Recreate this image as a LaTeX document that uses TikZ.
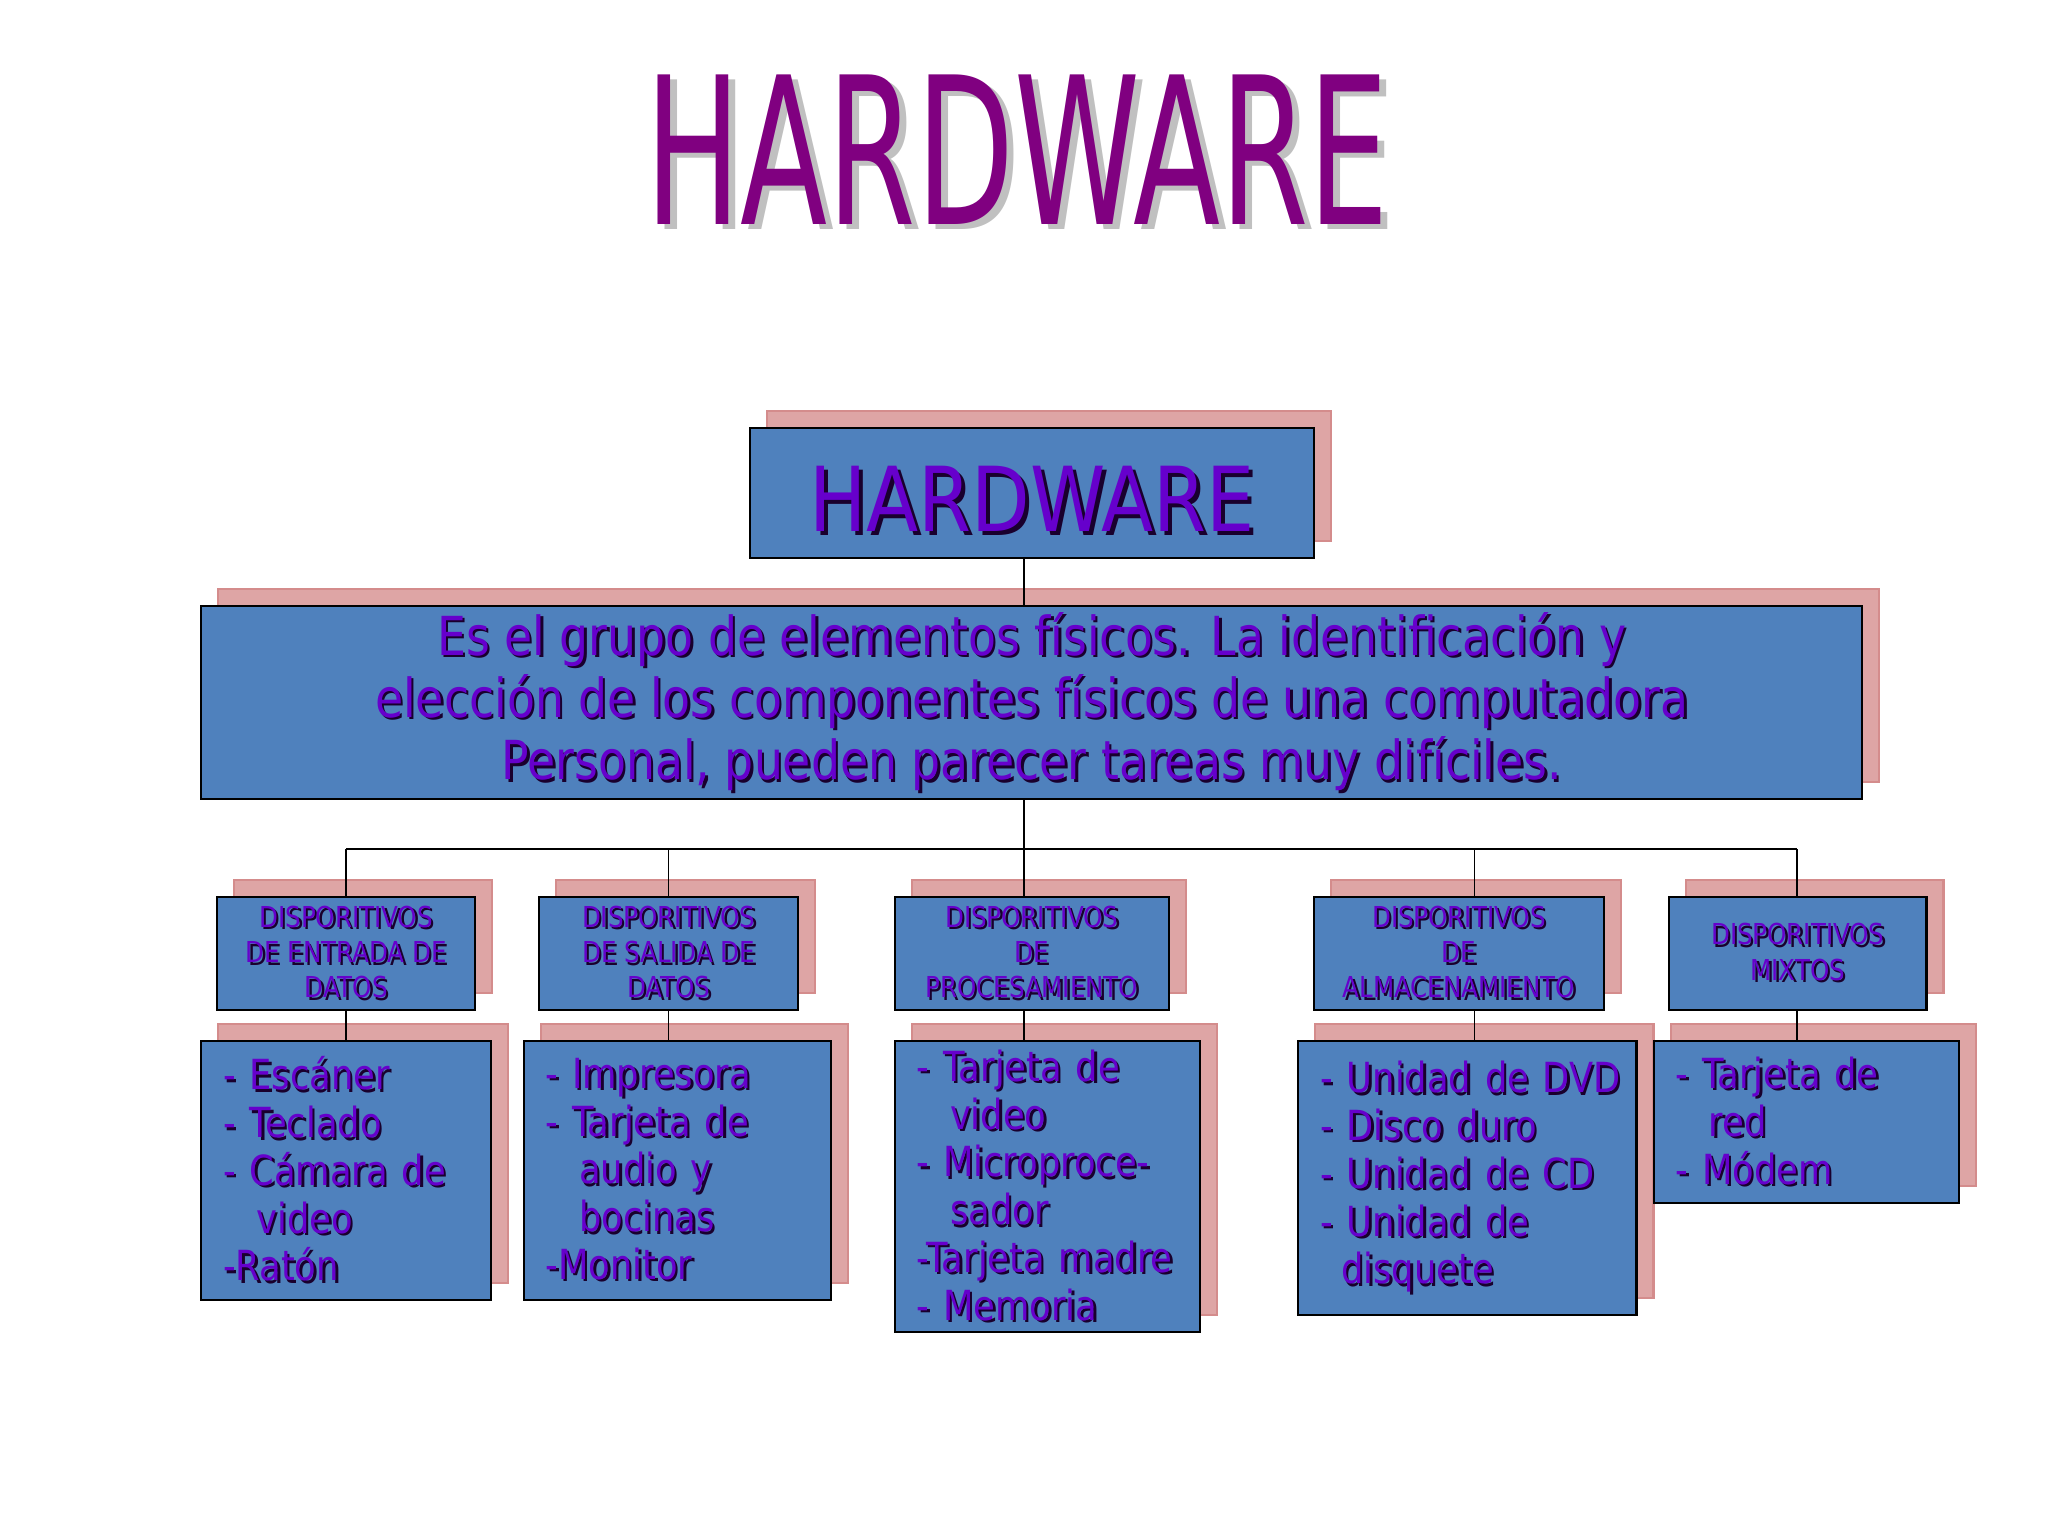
\documentclass[tikz,border=0pt]{standalone}
\usepackage{fontspec}
\setmainfont{DejaVu Sans}[FakeStretch=0.85]
\newfontfamily\titlefont{DejaVu Sans}[FakeStretch=0.62]
\usepackage{xcolor}
\usetikzlibrary{shadows}

\definecolor{boxblue}{RGB}{79,129,189}
\definecolor{shpink}{RGB}{222,165,165}
\definecolor{shedge}{RGB}{212,140,140}
\definecolor{txtviolet}{RGB}{102,0,204}
\definecolor{txtshade}{RGB}{25,0,45}
\definecolor{titlepurple}{RGB}{128,0,128}
\definecolor{titleshade}{RGB}{192,192,192}

\newcommand{\shtxt}[2][0.7pt]{\leavevmode\rlap{\kern#1\raisebox{-#1}{\color{txtshade}#2}}\mbox{#2}}

\begin{document}
\begin{tikzpicture}[
    box/.style={draw=black, line width=0.6pt, fill=boxblue, text=txtviolet,
      drop shadow={shadow xshift=0.17cm, shadow yshift=0.17cm, fill=shpink, draw=shedge, opacity=1}},
    catbox/.style={box, align=center, inner sep=0pt, minimum height=1.13cm, font=\fontsize{8.2}{10}\selectfont},
    itembox/.style={box, align=left, inner xsep=0.22cm, inner ysep=0pt, font=\fontsize{11.8}{13.6}\selectfont},
    titletxt/.style={anchor=base, font=\titlefont\fontsize{58.4}{60}\selectfont},
    link/.style={line width=0.45pt}]
  \useasboundingbox (0,0) rectangle (20.48,-15.36);
  % big title
  \node[titletxt, text=titleshade] (titleshadow) at (10.24,-2.30) {HARDWARE};
  \node[titletxt, text=titlepurple] (title) at (10.17,-2.246) {HARDWARE};
  % top box
  \node[box, minimum width=5.64cm, minimum height=1.30cm, inner ysep=0pt, text height=0.78cm, text depth=0pt, font=\fontsize{25.5}{30}\selectfont] (top) at (10.32,-4.93) {\shtxt[1.1pt]{HARDWARE}};
  % description
  \node[box, align=center, inner ysep=1pt, minimum width=16.61cm, minimum height=1.93cm, font=\fontsize{15.3}{17.7}\selectfont] (desc) at (10.318,-7.027)
    {\shtxt{Es el grupo de elementos físicos. La identificación y}\\
     \shtxt{elección de los componentes físicos de una computadora}\\
     \shtxt{Personal, pueden parecer tareas muy difíciles.}};
  % categories
  \node[catbox, minimum width=2.586cm] (cat1) at (3.461,-9.533) {\shtxt{DISPORITIVOS}\\\shtxt{DE ENTRADA DE}\\\shtxt{DATOS}};
  \node[catbox, minimum width=2.586cm] (cat2) at (6.687,-9.533) {\shtxt{DISPORITIVOS}\\\shtxt{DE SALIDA DE}\\\shtxt{DATOS}};
  \node[catbox, minimum width=2.743cm] (cat3) at (10.318,-9.533) {\shtxt{DISPORITIVOS}\\\shtxt{DE}\\\shtxt{PROCESAMIENTO}};
  \node[catbox, minimum width=2.90cm] (cat4) at (14.589,-9.533) {\shtxt{DISPORITIVOS}\\\shtxt{DE}\\\shtxt{ALMACENAMIENTO}};
  \node[catbox, minimum width=2.573cm] (cat5) at (17.978,-9.533) {\shtxt{DISPORITIVOS}\\\shtxt{MIXTOS}};
  % lists
  \node[itembox, text width=2.46cm, minimum height=2.586cm] (it1) at (3.461,-11.703)
    {\shtxt{- Escáner}\\\shtxt{- Teclado}\\\shtxt{- Cámara de}\\\hspace*{9.5pt}\shtxt{video}\\\shtxt{-Ratón}};
  \node[itembox, text width=2.63cm, minimum height=2.586cm] (it2) at (6.772,-11.703)
    {\shtxt{- Impresora}\\\shtxt{- Tarjeta de}\\\hspace*{9.5pt}\shtxt{audio y}\\\hspace*{9.5pt}\shtxt{bocinas}\\\shtxt{-Monitor}};
  \node[itembox, text width=2.616cm, minimum height=2.912cm] (it3) at (10.475,-11.866)
    {\shtxt{- Tarjeta de}\\\hspace*{9.5pt}\shtxt{video}\\\shtxt{- Microproce-}\\\hspace*{9.5pt}\shtxt{sador}\\\shtxt{-Tarjeta madre}\\\shtxt{- Memoria}};
  \node[itembox, text width=2.942cm, minimum height=2.742cm] (it4) at (14.674,-11.781)
    {\shtxt{- Unidad de DVD}\\\shtxt{- Disco duro}\\\shtxt{- Unidad de CD}\\\shtxt{- Unidad de}\\\hspace*{6pt}\shtxt{disquete}};
  \node[itembox, text width=2.617cm, minimum height=1.619cm] (it5) at (18.064,-11.22)
    {\shtxt{- Tarjeta de}\\\hspace*{9.5pt}\shtxt{red}\\\shtxt{- Módem}};
  % connectors
  \coordinate (b1) at (3.461,-8.49);
  \coordinate (b2) at (6.687,-8.49);
  \coordinate (b3) at (10.24,-8.49);
  \coordinate (b4) at (14.746,-8.49);
  \coordinate (b5) at (17.972,-8.49);
  \draw[link] (b3 |- top.south) -- (b3 |- desc.north);
  \draw[link] (b3 |- desc.south) -- (b3);
  \draw[link] (b1) -- (b5);
  \foreach \i in {1,...,5} {
    \draw[link] (b\i) -- (b\i |- cat\i.north);
    \draw[link] (b\i |- cat\i.south) -- (b\i |- it\i.north);
  }
\end{tikzpicture}
\end{document}
